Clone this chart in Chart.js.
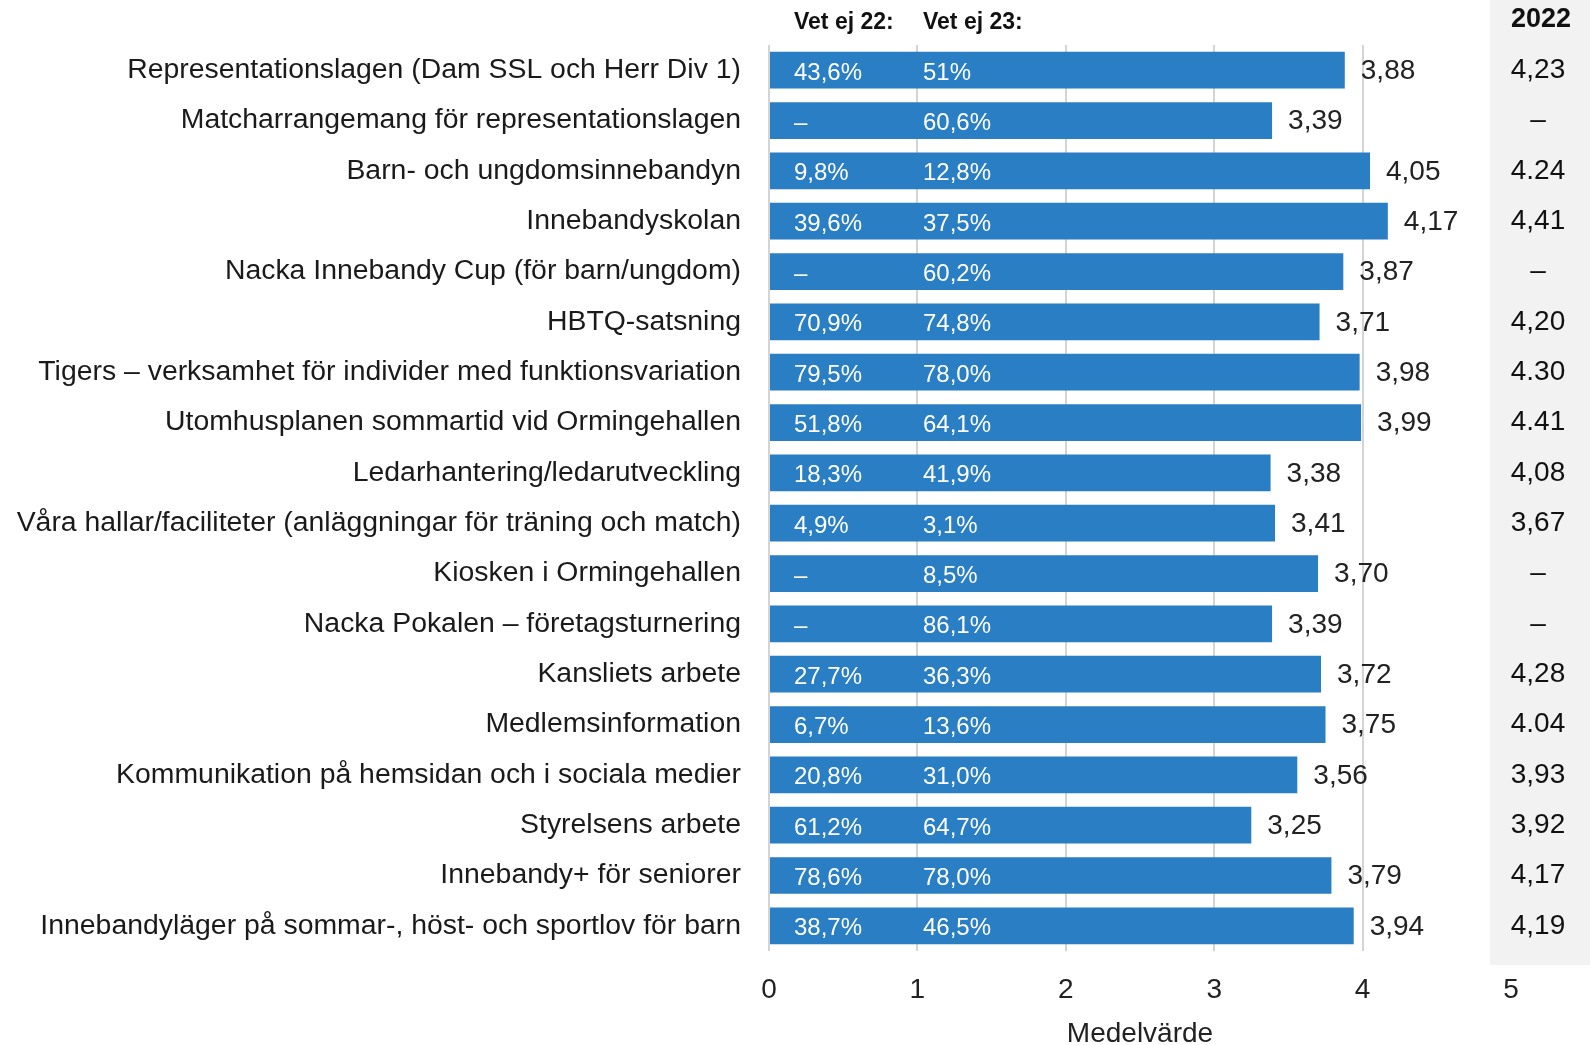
<!DOCTYPE html>
<html>
<head>
<meta charset="utf-8">
<script src="https://cdn.jsdelivr.net/npm/chart.js@4/dist/chart.umd.min.js"></script>
<style>
html,body{margin:0;padding:0;background:#fff;}
canvas{display:block;}
</style>
</head>
<body>
<canvas id="c" width="1590" height="1045"></canvas>
<script>
const categories = [
  "Representationslagen (Dam SSL och Herr Div 1)",
  "Matcharrangemang för representationslagen",
  "Barn- och ungdomsinnebandyn",
  "Innebandyskolan",
  "Nacka Innebandy Cup (för barn/ungdom)",
  "HBTQ-satsning",
  "Tigers – verksamhet för individer med funktionsvariation",
  "Utomhusplanen sommartid vid Ormingehallen",
  "Ledarhantering/ledarutveckling",
  "Våra hallar/faciliteter (anläggningar för träning och match)",
  "Kiosken i Ormingehallen",
  "Nacka Pokalen – företagsturnering",
  "Kansliets arbete",
  "Medlemsinformation",
  "Kommunikation på hemsidan och i sociala medier",
  "Styrelsens arbete",
  "Innebandy+ för seniorer",
  "Innebandyläger på sommar-, höst- och sportlov för barn"
];
const means2023 = [3.88, 3.39, 4.05, 4.17, 3.87, 3.71, 3.98, 3.99, 3.38, 3.41, 3.70, 3.39, 3.72, 3.75, 3.56, 3.25, 3.79, 3.94];
const meanLabels2023 = ["3,88","3,39","4,05","4,17","3,87","3,71","3,98","3,99","3,38","3,41","3,70","3,39","3,72","3,75","3,56","3,25","3,79","3,94"];
const vetEj22 = ["43,6%","–","9,8%","39,6%","–","70,9%","79,5%","51,8%","18,3%","4,9%","–","–","27,7%","6,7%","20,8%","61,2%","78,6%","38,7%"];
const vetEj23 = ["51%","60,6%","12,8%","37,5%","60,2%","74,8%","78,0%","64,1%","41,9%","3,1%","8,5%","86,1%","36,3%","13,6%","31,0%","64,7%","78,0%","46,5%"];
const values2022 = ["4,23","–","4.24","4,41","–","4,20","4.30","4.41","4,08","3,67","–","–","4,28","4.04","3,93","3,92","4,17","4,19"];
const xTicks = [0, 1, 2, 3, 4, 5];
const headerVet22 = "Vet ej 22:";
const headerVet23 = "Vet ej 23:";
const header2022 = "2022";
const xTitle = "Medelvärde";

const FONT = "'Liberation Sans', Arial, Helvetica, sans-serif";

const overlay = {
  id: 'overlay',
  beforeDraw(chart) {
    const ctx = chart.ctx;
    ctx.save();
    ctx.fillStyle = '#f2f2f2';
    ctx.fillRect(1490, 0, 100, 965);
    ctx.restore();
  },
  afterDatasetsDraw(chart) {
    const ctx = chart.ctx;
    const y = chart.scales.y;
    const x = chart.scales.x;
    ctx.save();
    // headers
    ctx.font = "bold 23px " + FONT;
    ctx.fillStyle = '#111';
    ctx.textBaseline = 'middle';
    ctx.textAlign = 'left';
    ctx.fillText(headerVet22, 794, 23);
    ctx.fillText(headerVet23, 923, 23);
    ctx.font = "bold 27px " + FONT;
    ctx.textAlign = 'center';
    ctx.fillText(header2022, 1541, 20);

    categories.forEach((c, i) => {
      const py = y.getPixelForValue(i);
      // inside-bar percentages
      ctx.font = "24px " + FONT;
      ctx.fillStyle = '#ffffff';
      ctx.textAlign = 'left';
      ctx.fillText(vetEj22[i], 794, py + 3);
      ctx.fillText(vetEj23[i], 923, py + 3);
      // value labels
      ctx.font = "28px " + FONT;
      ctx.fillStyle = '#222';
      ctx.fillText(meanLabels2023[i], x.getPixelForValue(means2023[i]) + 16, py + 1);
      // 2022 column
      ctx.textAlign = 'center';
      ctx.fillStyle = '#111';
      ctx.fillText(values2022[i], 1538, py);
    });
    ctx.restore();
  }
};

new Chart(document.getElementById('c'), {
  type: 'bar',
  data: {
    labels: categories,
    datasets: [{
      data: means2023,
      backgroundColor: '#2A7EC4',
      borderWidth: 0,
      barPercentage: 0.73,
      categoryPercentage: 1.0
    }]
  },
  options: {
    indexAxis: 'y',
    responsive: false,
    animation: false,
    devicePixelRatio: 1,
    layout: { padding: { top: 43, right: 79, bottom: 0, left: 0 } },
    plugins: { legend: { display: false }, tooltip: { enabled: false } },
    scales: {
      x: {
        type: 'linear',
        min: 0,
        max: 5,
        afterBuildTicks: (s) => { s.ticks = xTicks.map(v => ({ value: v })); },
        afterFit: (s) => { s.height = 94; },
        border: { display: false },
        grid: {
          color: (c) => (c.tick && c.tick.value === 5) ? 'rgba(0,0,0,0)' : '#d4d4d4',
          lineWidth: 2,
          drawTicks: false
        },
        ticks: {
          padding: 22,
          color: '#222',
          font: { family: FONT, size: 28 },
          callback: (v) => String(v)
        },
        title: {
          display: true,
          text: xTitle,
          color: '#222',
          padding: { top: 0, bottom: 0 },
          font: { family: FONT, size: 28, lineHeight: 0.8 }
        }
      },
      y: {
        afterFit: (s) => { s.width = 769; },
        border: { display: false },
        grid: { display: false, drawTicks: false },
        ticks: {
          padding: 28,
          color: '#1a1a1a',
          font: { family: FONT, size: 28.4 },
          autoSkip: false
        }
      }
    }
  },
  plugins: [overlay]
});
</script>
</body>
</html>
